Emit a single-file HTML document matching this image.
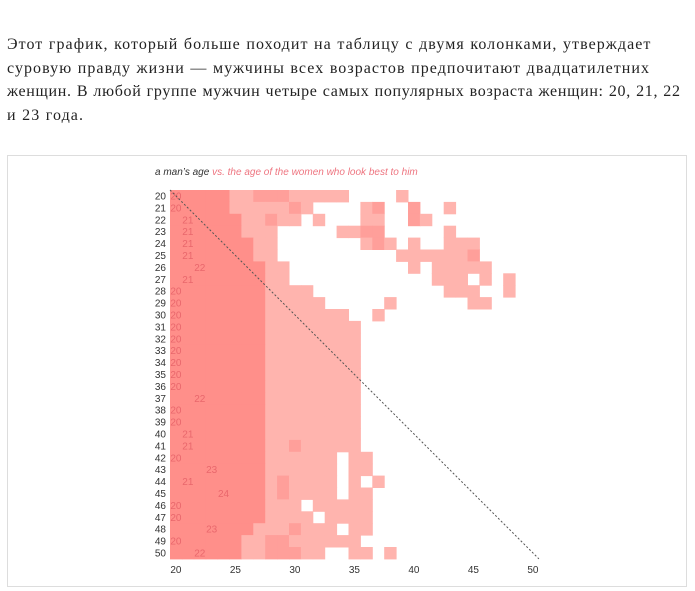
<!DOCTYPE html>
<html><head><meta charset="utf-8"><style>
body{margin:0;width:695px;height:591px;background:#fff;overflow:hidden;font-family:"Liberation Serif",serif}
p{position:absolute;left:7px;top:33px;margin:0;width:688px;white-space:nowrap;font-size:16px;letter-spacing:1.05px;word-spacing:0.5px;line-height:23.5px;color:#222}
#box{position:absolute;left:7px;top:155px;width:680px;height:432px;border:1px solid #ddd;box-sizing:border-box}
svg{position:absolute;left:0;top:0}
</style></head><body>
<p>Этот график, который больше походит на таблицу с двумя колонками, утверждает<br>суровую правду жизни — мужчины всех возрастов предпочитают двадцатилетних<br><span style="letter-spacing:0.68px">женщин. В любой группе мужчин четыре самых популярных возраста женщин: 20, 21, 22</span><br>и 23 года.</p>
<div id="box"></div>
<svg id="chart" width="695" height="591" font-family="Liberation Sans, sans-serif"></svg>
<script>
const menAges=[20,21,22,23,24,25,26,27,28,29,30,31,32,33,34,35,36,37,38,39,40,41,42,43,44,45,46,47,48,49,50];
const womenAges=[20,21,22,23,24,25,26,27,28,29,30,31,32,33,34,35,36,37,38,39,40,41,42,43,44,45,46,47,48,49];
const topChoice=[20,20,21,21,21,21,22,21,20,20,20,20,20,20,20,20,20,22,20,20,21,21,20,23,21,24,20,20,23,20,22];
const levels=[
"333331122211111000010000000000",
"333331111121000012002001000000",
"333333112110100011002100000000",
"333333111000001122000001000000",
"333333311000000012101001110000",
"333333311000000000011111120000",
"333333331100000000001011111000",
"333333331100000000000011101010",
"333333331111000000000001110010",
"333333331111100000100000011000",
"333333331111111001000000000000",
"333333331111111100000000000000",
"333333331111111100000000000000",
"333333331111111100000000000000",
"333333331111111100000000000000",
"333333331111111100000000000000",
"333333331111111100000000000000",
"333333331111111100000000000000",
"333333331111111100000000000000",
"333333331111111100000000000000",
"333333331111111100000000000000",
"333333331121111100000000000000",
"333333331111110110000000000000",
"333333331111110110000000000000",
"333333331211110101000000000000",
"333333331211110110000000000000",
"333333331110111110000000000000",
"333333331111011110000000000000",
"333333311121110110000000000000",
"333333112211111100000000000000",
"333333112221100110100000000000"];
const xTicks=[20,25,30,35,40,45,50];
const NS="http://www.w3.org/2000/svg";
const svg=document.getElementById('chart');
const X0=170,Y0=190,C=11.9;
const xs=a=>X0+(a-20)*C, ys=a=>Y0+(a-20)*C;
const colors=['none','#ffb4ae','#ff9f9a','#ff8f8a'];
function mk(t,at){const e=document.createElementNS(NS,t);for(const k in at)e.setAttribute(k,at[k]);svg.appendChild(e);return e;}
menAges.forEach((m,i)=>{
  womenAges.forEach((w,j)=>{
    const l=+levels[i][j]; if(!l) return;
    const r=mk('rect',{x:xs(w),y:ys(m),width:C+0.5,height:C+0.5,fill:colors[l]});
    
    
  });
});
menAges.forEach((m,i)=>{
  const t=mk('text',{x:166,y:ys(m)+C/2+3.5,'font-size':10,'text-anchor':'end',fill:'#333'});
  t.textContent=m;
  
  
  const v=mk('text',{x:xs(topChoice[i])+C/2,y:ys(m)+C/2+3.5,'font-size':10,'text-anchor':'middle',fill:'#e9676c'});
  v.textContent=topChoice[i];
  
  
});
xTicks.forEach(a=>{
  const t=mk('text',{x:xs(a)+C/2,y:573,'font-size':10,'text-anchor':'middle',fill:'#333'});
  t.textContent=a;
  
  
});
const ln=mk('line',{x1:X0,y1:Y0,x2:xs(51),y2:ys(51),stroke:'#555','stroke-width':1,'stroke-dasharray':'2,2'});


const tt=mk('text',{x:155,y:175,'font-size':10,'font-style':'italic'});


tt.innerHTML='<tspan fill="#333">a man\u2019s age </tspan><tspan fill="#ee7580">vs. the age of the women who look best to him</tspan>';
</script>
</body></html>
